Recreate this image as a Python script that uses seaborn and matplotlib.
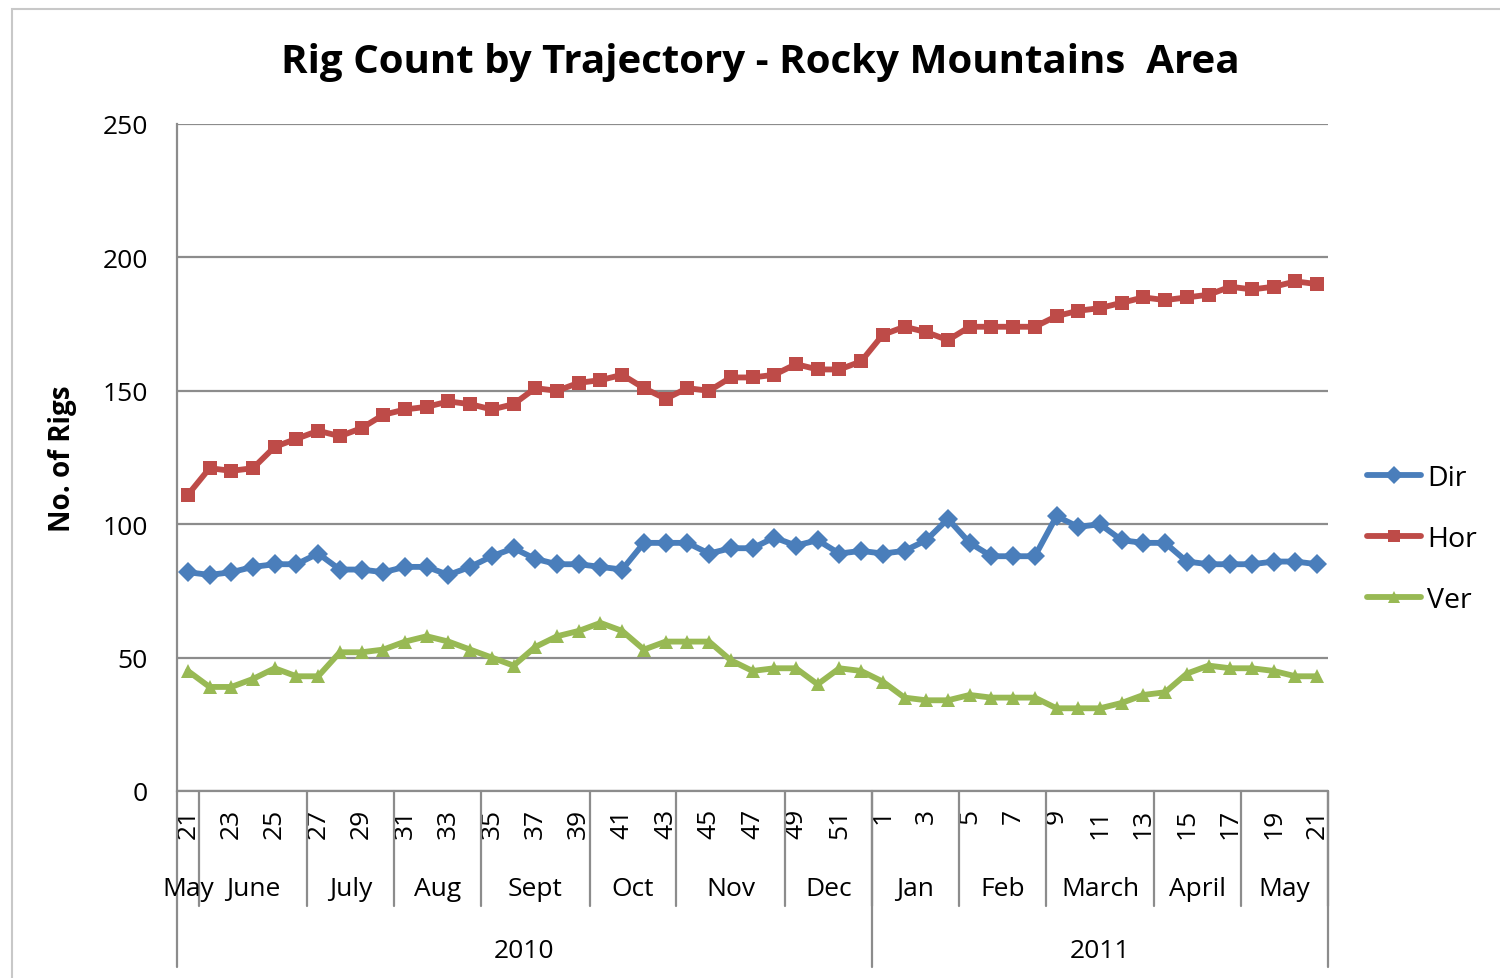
import matplotlib
matplotlib.use("Agg")
import matplotlib.pyplot as plt
import matplotlib.transforms as mtransforms
from matplotlib.patches import Rectangle
import numpy as np
import pandas as pd
import seaborn as sns

# -----------------------------
# Data (weekly rig counts, wk 21 2010 .. wk 21 2011)
# -----------------------------
weeks_2010 = list(range(21, 53))
weeks_2011 = list(range(1, 22))
weeks = weeks_2010 + weeks_2011

dir_counts = [82, 81, 82, 84, 85, 85, 89, 83, 83, 82, 84, 84, 81, 84, 88, 91,
              87, 85, 85, 84, 83, 93, 93, 93, 89, 91, 91, 95, 92, 94, 89, 90,
              89, 90, 94, 102, 93, 88, 88, 88, 103, 99, 100, 94, 93, 93, 86,
              85, 85, 85, 86, 86, 85]
hor_counts = [111, 121, 120, 121, 129, 132, 135, 133, 136, 141, 143, 144, 146,
              145, 143, 145, 151, 150, 153, 154, 156, 151, 147, 151, 150, 155,
              155, 156, 160, 158, 158, 161,
              171, 174, 172, 169, 174, 174, 174, 174, 178, 180, 181, 183, 185,
              184, 185, 186, 189, 188, 189, 191, 190]
ver_counts = [45, 39, 39, 42, 46, 43, 43, 52, 52, 53, 56, 58, 56, 53, 50, 47,
              54, 58, 60, 63, 60, 53, 56, 56, 56, 49, 45, 46, 46, 40, 46, 45,
              41, 35, 34, 34, 36, 35, 35, 35, 31, 31, 31, 33, 36, 37, 44, 47,
              46, 46, 45, 43, 43]

# month groups: (label, number of weeks)
months = ["May", "June", "July", "Aug", "Sept", "Oct", "Nov", "Dec",
          "Jan", "Feb", "March", "April", "May"]
month_weeks = [1, 5, 4, 4, 5, 4, 5, 4, 4, 4, 5, 4, 4]
years = ["2010", "2011"]
year_weeks = [len(weeks_2010), len(weeks_2011)]

series = ["Dir", "Hor", "Ver"]
colors = {"Dir": "#4A7EBB", "Hor": "#BE4B48", "Ver": "#98B954"}
markers = {"Dir": "D", "Hor": "s", "Ver": "^"}

n = len(weeks)
df = pd.DataFrame({
    "idx": np.tile(np.arange(n), 3),
    "rigs": dir_counts + hor_counts + ver_counts,
    "series": np.repeat(series, n),
})

# -----------------------------
# Plot
# -----------------------------
sns.set_style("white")
plt.rcParams["font.family"] = ["Open Sans", "DejaVu Sans"]
plt.rcParams["text.color"] = "black"
plt.rcParams["xtick.color"] = "black"
plt.rcParams["ytick.color"] = "black"
plt.rcParams["axes.labelcolor"] = "black"

fig = plt.figure(figsize=(15, 9.79), dpi=100)
ax = fig.add_axes([177 / 1500, 1 - 792 / 979, 1151 / 1500, 667 / 979])

# outer chart border
fig.patches.append(Rectangle((12 / 1500, -0.05), 1.2, 1.05 - 10 / 979,
                             transform=fig.transFigure, fill=False,
                             edgecolor="#C8C8C8", lw=1.5, zorder=0))

lw = 4.2
ms = 10
sns.lineplot(data=df, x="idx", y="rigs", hue="series", style="series",
             palette=colors, markers=markers, dashes=False, ax=ax,
             linewidth=lw, markersize=ms, markeredgewidth=0, legend=False)

ax.set_xlim(-0.5, n - 0.5)
ax.set_ylim(0, 250)
ax.set_yticks([0, 50, 100, 150, 200, 250])
ax.yaxis.grid(True, color="#8C8C8C", lw=1.6)
ax.set_axisbelow(True)
for s in ["top", "right", "bottom"]:
    ax.spines[s].set_visible(False)
ax.spines["left"].set_color("#8C8C8C")
ax.spines["left"].set_linewidth(1.6)
ax.tick_params(axis="y", length=0, labelsize=19, pad=21)
ax.tick_params(axis="x", length=0, labelsize=19, pad=12)

# odd week labels
pos = [i for i, w in enumerate(weeks) if w % 2 == 1]
ax.set_xticks(pos)
ax.set_xticklabels([str(weeks[i]) for i in pos], rotation=90)
ax.set_xlabel("")
ax.set_ylabel("No. of Rigs", fontsize=20, fontweight="bold", labelpad=18)

# multi-level category axis
trans = mtransforms.blended_transform_factory(ax.transData, ax.transAxes)
lc = "#8C8C8C"
month_y1 = -(907 - 792) / 667
year_y1 = -(968 - 792) / 667
start = -0.5
for label, cnt in zip(months, month_weeks):
    end = start + cnt
    ax.text((start + end) / 2, -(890 - 792) / 667, label, transform=trans,
            ha="center", va="center", fontsize=19)
    ax.plot([end, end], [0, month_y1], transform=trans, color=lc,
            lw=1.6, clip_on=False)
    start = end
start = -0.5
ax.plot([start, start], [0, year_y1], transform=trans, color=lc, lw=1.6,
        clip_on=False)
for label, cnt in zip(years, year_weeks):
    end = start + cnt
    ax.text((start + end) / 2, -(952 - 792) / 667, label, transform=trans,
            ha="center", va="center", fontsize=19)
    ax.plot([end, end], [0, year_y1], transform=trans, color=lc, lw=1.6,
            clip_on=False)
    start = end
ax.plot([-0.5, n - 0.5], [0, 0], transform=trans, color=lc, lw=1.6,
        clip_on=False)

# legend
handles = [plt.Line2D([], [], color=colors[s], marker=markers[s], lw=lw,
                      markersize=ms - 1, markeredgewidth=0) for s in series]
fig.legend(handles, series, loc="center left",
           bbox_to_anchor=(1356 / 1500, 1 - 540 / 979), frameon=False,
           fontsize=20.5, handlelength=1.9, handletextpad=0.2,
           labelspacing=1.15, borderaxespad=0)

fig.suptitle("Rig Count by Trajectory - Rocky Mountains  Area", x=760 / 1500,
             y=1 - 62 / 979, va="center", fontsize=29, fontweight="bold")

fig.savefig("out.png", dpi=100)
